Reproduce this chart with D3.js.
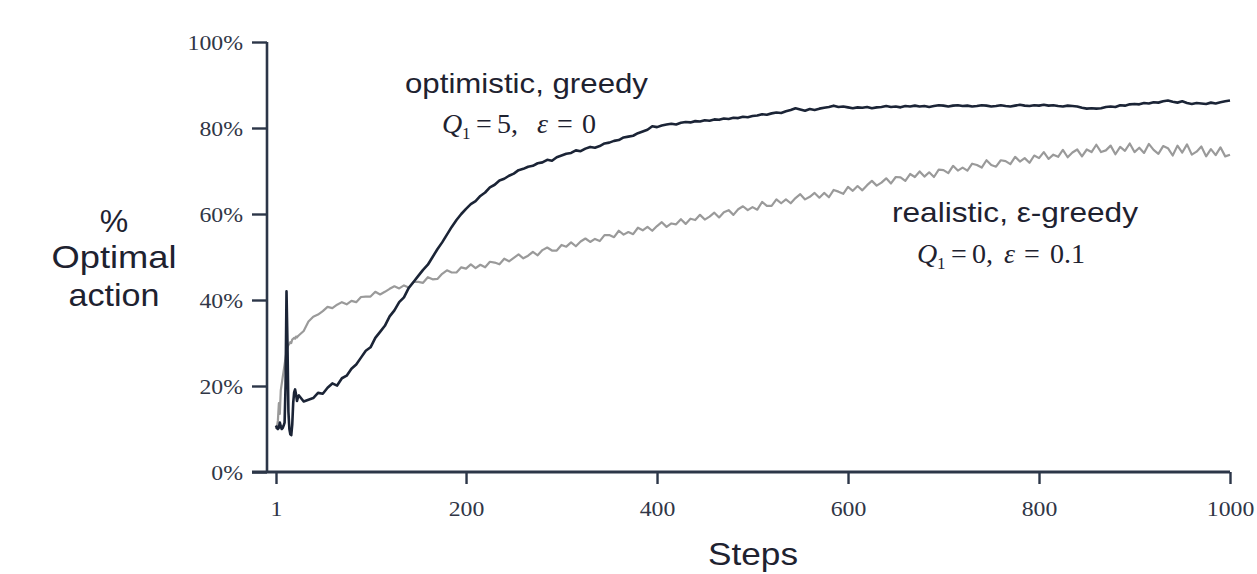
<!DOCTYPE html>
<html><head><meta charset="utf-8">
<script src="https://cdn.jsdelivr.net/npm/d3@7"></script>
<style>body{margin:0;background:#fff} svg{display:block}</style>
</head><body><svg id="c" width="1257" height="574"></svg>
<script>
const steps = [1,2,3,4,5,6,7,8,9,10,11,12,13,14,15,16,17,18,19,20,21,22,23,24,
25,30,35,40,45,50,55,60,65,70,
75,80,85,90,95,100,105,110,115,120,
125,130,135,140,145,150,155,160,165,170,
175,180,185,190,195,200,205,210,215,220,
225,230,235,240,245,250,255,260,265,270,
275,280,285,290,295,300,305,310,315,320,
325,330,335,340,345,350,355,360,365,370,
375,380,385,390,395,400,405,410,415,420,
425,430,435,440,445,450,455,460,465,470,
475,480,485,490,495,500,505,510,515,520,
525,530,535,540,545,550,555,560,565,570,
575,580,585,590,595,600,605,610,615,620,
625,630,635,640,645,650,655,660,665,670,
675,680,685,690,695,700,705,710,715,720,
725,730,735,740,745,750,755,760,765,770,
775,780,785,790,795,800,805,810,815,820,
825,830,835,840,845,850,855,860,865,870,
875,880,885,890,895,900,905,910,915,920,
925,930,935,940,945,950,955,960,965,970,
975,980,985,990,995,1000];

const optimistic = [10.8,10.2,10.0,10.3,11.5,10.6,10.0,10.2,10.8,11.5,20,42,30,14,10,8.8,8.6,11,16,18.5,19.2,18,16.5,17.4,
17.8,16.4,16.8,17.2,18.4,18.2,19.6,20.6,20.1,21.8,
22.4,24.0,25.0,26.6,28.2,29.0,31.2,32.6,34.0,36.2,
37.6,39.5,40.6,42.8,44.2,45.6,47.0,48.2,50.0,51.8,
53.4,55.2,57.0,58.6,60.0,61.2,62.3,63.0,64.2,65.0,
66.2,66.8,67.8,68.2,68.9,69.4,70.2,70.5,71.0,71.2,
71.8,72.0,72.6,72.4,73.2,73.6,74.0,74.2,74.8,74.6,
75.2,75.6,75.4,75.8,76.4,76.6,77.0,77.2,77.8,78.0,
78.2,78.8,79.2,79.6,80.4,80.2,80.6,80.8,81.0,80.8,
81.2,81.4,81.3,81.6,81.5,81.8,81.7,82.0,81.9,82.2,
82.1,82.4,82.3,82.6,82.5,82.8,82.9,83.2,83.1,83.4,
83.6,83.5,83.9,84.2,84.6,84.3,84.0,84.4,84.2,84.5,
84.7,84.9,85.2,84.9,85.0,84.8,84.6,84.8,84.7,84.9,
84.6,84.8,84.9,85.1,84.9,85.0,84.8,85.1,85.0,85.2,
85.0,85.1,84.9,85.1,85.3,85.2,85.0,85.2,85.3,85.1,
85.2,85.0,85.1,85.3,85.2,85.0,85.1,85.3,85.1,85.0,
85.2,85.4,85.2,85.1,85.3,85.2,85.4,85.2,85.3,85.1,
85.0,85.2,85.1,85.0,84.7,84.5,84.6,84.5,84.6,84.9,
85.0,84.9,85.3,85.2,85.5,85.6,85.5,85.8,85.7,86.0,
85.9,86.2,86.4,86.1,85.9,86.2,85.8,85.6,85.8,85.7,
85.6,85.9,85.7,86.0,86.2,86.4];

const realistic = [10,10.5,12,16,13.5,19,20.5,22,23.5,25,26.5,28,29,29.5,29.8,30.2,30.0,30.8,31.0,31.2,31.0,31.5,31.3,31.6,
31.8,32.8,35.0,36.1,36.6,37.4,38.4,38.1,38.9,39.5,
39.0,39.8,39.5,40.7,40.8,40.8,41.9,41.3,41.9,42.6,
43.2,42.7,43.4,42.9,44.2,44.2,44.0,45.3,44.8,44.9,
46.1,46.9,46.4,46.4,47.6,47.3,48.3,47.4,48.2,47.6,
48.9,48.7,48.3,49.6,49.0,49.8,50.6,49.7,50.3,51.2,
50.4,51.6,52.2,51.5,51.5,52.8,52.4,53.4,52.5,53.6,
54.3,53.5,54.2,53.7,55.1,55.1,54.6,56.1,55.2,55.8,
55.3,56.8,56.2,57.0,56.1,57.2,58.1,57.0,57.8,57.6,
58.8,57.7,58.9,58.6,59.8,58.7,59.4,60.3,59.2,60.4,
60.9,59.8,61.1,61.8,60.9,61.6,61.0,62.8,61.9,61.9,
63.4,62.5,63.4,62.5,63.7,64.6,63.4,64.0,64.9,63.8,
64.9,63.9,65.6,65.2,64.7,66.3,65.4,66.5,65.5,66.7,
67.7,66.6,67.3,68.3,67.1,68.6,68.5,67.7,69.3,68.6,
69.9,68.7,69.7,68.6,70.3,70.2,69.5,71.2,70.1,70.8,
70.1,71.7,71.4,70.8,72.5,71.4,71.0,72.5,72.3,71.6,
73.3,72.2,73.0,71.9,73.6,73.0,74.4,72.8,73.8,73.3,
74.9,73.2,74.3,75.0,73.4,75.0,74.4,76.1,74.4,74.8,
75.9,73.9,75.6,74.7,76.4,74.4,75.4,74.2,76.3,74.9,
74.0,75.8,75.3,73.6,75.9,74.3,76.2,73.8,74.5,75.7,
73.4,75.1,73.7,75.5,73.4,73.8];

const xTickValues = [1,200,400,600,800,1000];
const yTickValues = [0,20,40,60,80,100];
const yTickLabels = ["0%","20%","40%","60%","80%","100%"];

const serif = "'Liberation Serif','Times New Roman',serif";
const sans = "'Liberation Sans',Arial,sans-serif";
const axisColor = "#2c3648";
const textColor = "#1e2230";

const svg = d3.select("#c");
svg.append("rect").attr("width",1257).attr("height",574).attr("fill","#fff");

const x = d3.scaleLinear().domain([1,1000]).range([276,1230]);
const y = d3.scaleLinear().domain([0,100]).range([472,42]);

const line = d3.line().x((d,i)=>x(steps[i])).y(d=>y(d));
svg.append("path").datum(realistic).attr("fill","none").attr("stroke","#9a9a9a")
  .attr("stroke-width",2.2).attr("stroke-linejoin","round").attr("d",line);
svg.append("path").datum(optimistic).attr("fill","none").attr("stroke","#1b2436")
  .attr("stroke-width",2.6).attr("stroke-linejoin","round").attr("d",line);

function stretch(sel, k){
  sel.each(function(){
    const w = this.getComputedTextLength();
    d3.select(this).attr("textLength", w*k).attr("lengthAdjust","spacingAndGlyphs");
  });
}

// Y axis
const gy = svg.append("g").attr("transform","translate(267,0)")
  .call(d3.axisLeft(y).tickValues(yTickValues).tickFormat((d,i)=>yTickLabels[i]).tickSize(15).tickPadding(9));
gy.select(".domain").remove();
gy.selectAll(".tick line").attr("stroke",axisColor).attr("stroke-width",2.4);
gy.selectAll(".tick text").attr("fill","#303646").style("font-family",serif).style("font-size","22px");
stretch(gy.selectAll(".tick text"),1.08);
svg.append("line").attr("x1",267).attr("x2",267).attr("y1",y(0)).attr("y2",y(100))
  .attr("stroke",axisColor).attr("stroke-width",2.6);

// X axis
const gx = svg.append("g").attr("transform","translate(0,472)")
  .call(d3.axisBottom(x).tickValues(xTickValues).tickFormat(d3.format("d")).tickSize(12));
gx.select(".domain").remove();
gx.selectAll(".tick line").attr("stroke",axisColor).attr("stroke-width",2.4);
gx.selectAll(".tick text").attr("fill","#303646").attr("y",44).attr("dy","0")
  .style("font-family",serif).style("font-size","22px");
stretch(gx.selectAll(".tick text"),1.08);
svg.append("line").attr("x1",252).attr("x2",x(1000)).attr("y1",472).attr("y2",472)
  .attr("stroke",axisColor).attr("stroke-width",3);

// Axis titles
function fit(sel, w){ sel.attr("textLength",w).attr("lengthAdjust","spacingAndGlyphs"); return sel; }
const yt = [["%",232,null],["Optimal",268,125],["action",306,91]];
yt.forEach(([t,by,w])=>{
  const s = svg.append("text").attr("x",114).attr("y",by).attr("text-anchor","middle")
    .attr("fill",textColor).style("font-family",sans).style("font-size","32px").text(t);
  if(w) fit(s,w);
});
fit(svg.append("text").attr("x",753).attr("y",565).attr("text-anchor","middle")
  .attr("fill",textColor).style("font-family",sans).style("font-size","32px").text("Steps"),90);

// Annotations
fit(svg.append("text").attr("x",405).attr("y",93).attr("fill",textColor)
  .style("font-family",sans).style("font-size","28px").text("optimistic, greedy"),243);
fit(svg.append("text").attr("x",892).attr("y",222).attr("fill",textColor)
  .style("font-family",sans).style("font-size","28px").text("realistic, ε-greedy"),246);

function formula(parts, by){
  const t = svg.append("text").attr("y",by).attr("fill",textColor)
    .style("font-family",serif).style("font-size","28px");
  parts.forEach(p=>{
    const s = t.append("tspan").attr("x",p.x).attr("y", p.sub ? by+6 : by).text(p.t);
    if(p.it) s.style("font-style","italic");
    if(p.sub) s.style("font-size","17px");
  });
}
formula([
  {t:"Q",x:442,it:true},{t:"1",x:462,sub:true},{t:"=",x:476},{t:"5,",x:497},
  {t:"ε",x:537,it:true},{t:"=",x:557},{t:"0",x:582}
],133);
formula([
  {t:"Q",x:917,it:true},{t:"1",x:937,sub:true},{t:"=",x:951},{t:"0,",x:972},
  {t:"ε",x:1004,it:true},{t:"=",x:1024},{t:"0.1",x:1050}
],263);
</script></body></html>
